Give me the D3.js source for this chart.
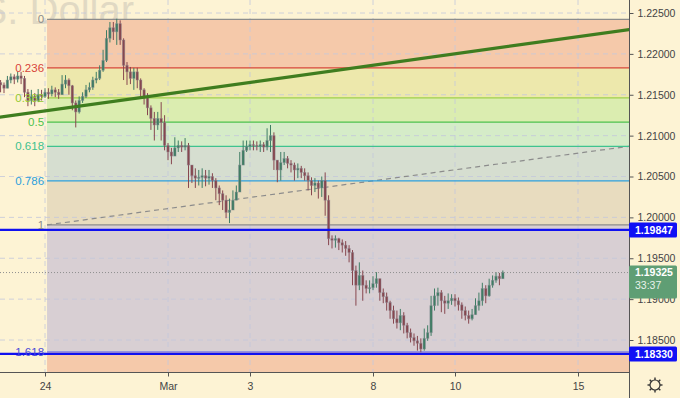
<!DOCTYPE html>
<html>
<head>
<meta charset="utf-8">
<script src="https://cdn.jsdelivr.net/npm/d3@7"></script>
<style>
  html, body { margin: 0; padding: 0; background: #fdf3d4; overflow: hidden; }
  svg { display: block; }
  text { font-family: 'Liberation Sans', Arial, sans-serif; }
</style>
</head>
<body>
<div id="chart"></div>
<script>
const WIDTH = 680;
const HEIGHT = 398;
const PLOT_RIGHT = 629;
const PLOT_BOTTOM = 372;

// 2h bars, open = previous close
const firstOpen = 1.2165;
const firstBarDay = -13 / 12;
const barStep = 1 / 12;

const closes = [
  1.2162, 1.2158, 1.2168, 1.2172, 1.2169, 1.2173, 1.2170, 1.2153, 1.2143, 1.2148,
  1.2143, 1.2150, 1.2148, 1.2153, 1.2151, 1.2156, 1.2153, 1.2150, 1.2163, 1.2168,
  1.2161, 1.2140, 1.2129, 1.2143, 1.2148, 1.2156, 1.2159, 1.2168, 1.2170, 1.2180,
  1.2192, 1.2219, 1.2232, 1.2227, 1.2237, 1.2217, 1.2186, 1.2178, 1.2170, 1.2178,
  1.2168, 1.2156, 1.2148, 1.2134, 1.2121, 1.2113, 1.2121, 1.2116, 1.2088, 1.2080,
  1.2075, 1.2085, 1.2088, 1.2086, 1.2088, 1.2064, 1.2051, 1.2048, 1.2049, 1.2051,
  1.2048, 1.2050, 1.2045, 1.2036, 1.2029, 1.2021, 1.2006, 1.2009, 1.2021, 1.2031,
  1.2064, 1.2082, 1.2087, 1.2089, 1.2088, 1.2087, 1.2089, 1.2086, 1.2094, 1.2100,
  1.2070, 1.2058, 1.2067, 1.2072, 1.2066, 1.2064, 1.2058, 1.2060, 1.2055, 1.2051,
  1.2045, 1.2039, 1.2042, 1.2036, 1.2045, 1.2021, 1.1974, 1.1972, 1.1974, 1.1969,
  1.1966, 1.1962, 1.1957, 1.1935, 1.1917, 1.1929, 1.1917, 1.1913, 1.1914, 1.1919,
  1.1925, 1.1908, 1.1903, 1.1896, 1.1886, 1.1876, 1.1871, 1.1880, 1.1868, 1.1859,
  1.1853, 1.1849, 1.1846, 1.1839, 1.1852, 1.1859, 1.1892, 1.1904, 1.1908, 1.1898,
  1.1895, 1.1898, 1.1901, 1.1898, 1.1893, 1.1886, 1.1880, 1.1876, 1.1881, 1.1892,
  1.1898, 1.1913, 1.1904, 1.1917, 1.1923, 1.1928, 1.1925, 1.19325
];
const highs = [
  1.2168, 1.2165, 1.2173, 1.2176, 1.2175, 1.2178, 1.2178, 1.2173, 1.2157, 1.2156,
  1.2152, 1.2157, 1.2156, 1.2158, 1.2158, 1.2161, 1.2159, 1.2157, 1.2174, 1.2174,
  1.2170, 1.2162, 1.2143, 1.2148, 1.2153, 1.2162, 1.2165, 1.2172, 1.2178, 1.2186,
  1.2205, 1.2229, 1.2239, 1.2239, 1.2243, 1.2241, 1.2219, 1.2190, 1.2184, 1.2183,
  1.2183, 1.2170, 1.2158, 1.2152, 1.2137, 1.2129, 1.2129, 1.2141, 1.2125, 1.2091,
  1.2085, 1.2098, 1.2094, 1.2093, 1.2097, 1.2091, 1.2064, 1.2060, 1.2058, 1.2060,
  1.2058, 1.2058, 1.2054, 1.2048, 1.2039, 1.2033, 1.2027, 1.2023, 1.2033, 1.2039,
  1.2080, 1.2094, 1.2094, 1.2094, 1.2094, 1.2093, 1.2094, 1.2092, 1.2109, 1.2113,
  1.2104, 1.2070, 1.2080, 1.2080, 1.2075, 1.2070, 1.2067, 1.2066, 1.2063, 1.2060,
  1.2055, 1.2049, 1.2048, 1.2045, 1.2050, 1.2055, 1.2027, 1.1978, 1.1978, 1.1975,
  1.1973, 1.1971, 1.1966, 1.1960, 1.1941, 1.1945, 1.1935, 1.1923, 1.1923, 1.1928,
  1.1933, 1.1925, 1.1913, 1.1908, 1.1898, 1.1892, 1.1886, 1.1888, 1.1884, 1.1871,
  1.1864, 1.1858, 1.1855, 1.1852, 1.1864, 1.1868, 1.1904, 1.1913, 1.1914, 1.1911,
  1.1904, 1.1907, 1.1906, 1.1906, 1.1902, 1.1896, 1.1891, 1.1886, 1.1888, 1.1901,
  1.1908, 1.1920, 1.1917, 1.1925, 1.1929, 1.1933, 1.1932, 1.1935
];
const lows = [
  1.2153, 1.2152, 1.2158, 1.2164, 1.2163, 1.2165, 1.2163, 1.2147, 1.2136, 1.2138,
  1.2136, 1.2141, 1.2143, 1.2146, 1.2145, 1.2148, 1.2147, 1.2145, 1.2150, 1.2158,
  1.2150, 1.2131, 1.2110, 1.2127, 1.2140, 1.2146, 1.2153, 1.2156, 1.2164, 1.2168,
  1.2178, 1.2190, 1.2214, 1.2217, 1.2211, 1.2211, 1.2168, 1.2162, 1.2163, 1.2156,
  1.2158, 1.2148, 1.2138, 1.2125, 1.2107, 1.2094, 1.2107, 1.2094, 1.2082, 1.2070,
  1.2065, 1.2075, 1.2080, 1.2080, 1.2082, 1.2036, 1.2042, 1.2036, 1.2039, 1.2036,
  1.2038, 1.2040, 1.2036, 1.2021, 1.2015, 1.2009, 1.1999, 1.1993, 1.2009, 1.2021,
  1.2031, 1.2064, 1.2080, 1.2082, 1.2082, 1.2082, 1.2080, 1.2080, 1.2082, 1.2080,
  1.2058, 1.2043, 1.2045, 1.2064, 1.2060, 1.2055, 1.2045, 1.2048, 1.2048, 1.2045,
  1.2033, 1.2027, 1.2031, 1.2023, 1.2025, 1.2002, 1.1966, 1.1962, 1.1963, 1.1960,
  1.1957, 1.1953, 1.1945, 1.1917, 1.1892, 1.1911, 1.1898, 1.1907, 1.1907, 1.1911,
  1.1914, 1.1898, 1.1895, 1.1886, 1.1876, 1.1870, 1.1864, 1.1862, 1.1858, 1.1852,
  1.1847, 1.1843, 1.1837, 1.1835, 1.1837, 1.1849, 1.1855, 1.1886, 1.1892, 1.1884,
  1.1882, 1.1888, 1.1893, 1.1891, 1.1886, 1.1876, 1.1874, 1.1870, 1.1874, 1.1884,
  1.1886, 1.1892, 1.1895, 1.1903, 1.1914, 1.1920, 1.1917, 1.1925
];

// trading-day index: Feb 24 = 0
const dayTicks = [0, 3, 5, 8, 10, 13];
const dayLabels = ['24', 'Mar', '3', '8', '10', '15'];
const priceTicks = [1.185, 1.19, 1.195, 1.2, 1.205, 1.21, 1.215, 1.22, 1.225];

const fibLevels = [0, 0.236, 0.382, 0.5, 0.618, 0.786, 1, 1.618];
const fibLabels = ['0', '0.236', '0.382', '0.5', '0.618', '0.786', '1', '1.618'];
const fibHigh = 1.22423;
const fibLow = 1.19908;
const fibStartDay = 0.05;

const trendDays = [-1.1, 14.25];
const trendPrices = [1.21225, 1.22298];
const fibTrendDays = [0.05, 14.25];
const fibTrendPrices = [1.19908, 1.2087];

const levelPrices = [1.19847, 1.1833];
const lastPrice = 1.19325;
const countdown = '33:37';
const watermark = 'U.S. Dollar';

const fibLineColors = ['#8c8c8c', '#d8443a', '#9fd04a', '#4cc24c', '#3fc38f', '#2c9fdc', '#8c8c8c', '#7f7fe6'];
const fibTextColors = ['#8c8c8c', '#d8443a', '#95c92f', '#4cc24c', '#3ec18e', '#2c9fdc', '#8c8c8c', '#4b4bd8'];
const fibFillColors = ['#f5c9aa', '#ede8ac', '#dbedb0', '#d5ecc8', '#d6ded0', '#e8dcbf', '#d8cfd3', '#f5c9aa'];

const x = d3.scaleLinear().domain([0, 13]).range([45, 578]);
const y = d3.scaleLinear().domain([1.185, 1.225]).range([340, 13]);

const svg = d3.select('#chart')
  .append('svg')
  .attr('width', WIDTH)
  .attr('height', HEIGHT);

svg.append('rect')
  .attr('width', WIDTH)
  .attr('height', HEIGHT)
  .attr('fill', '#fdf3d4');

svg.append('defs').append('clipPath')
  .attr('id', 'plot-clip')
  .append('rect')
  .attr('width', PLOT_RIGHT)
  .attr('height', PLOT_BOTTOM);

svg.append('text')
  .attr('x', 134)
  .attr('y', 24)
  .attr('text-anchor', 'end')
  .attr('font-size', 40)
  .attr('fill', '#9a9a9a')
  .attr('opacity', 0.28)
  .text(watermark);

const plot = svg.append('g').attr('clip-path', 'url(#plot-clip)');

// fib bands
const fibPrice = l => fibHigh - l * (fibHigh - fibLow);
const fibX = x(fibStartDay);
const bandEdges = fibLevels.map(fibPrice).concat([y.invert(PLOT_BOTTOM)]);

plot.selectAll('.band')
  .data(fibFillColors)
  .enter().append('rect')
  .attr('class', 'band')
  .attr('x', fibX)
  .attr('width', PLOT_RIGHT - fibX)
  .attr('y', (d, i) => y(bandEdges[i]))
  .attr('height', (d, i) => y(bandEdges[i + 1]) - y(bandEdges[i]))
  .attr('fill', d => d);

// grid
plot.selectAll('.hgrid')
  .data(priceTicks)
  .enter().append('line')
  .attr('x1', 0).attr('x2', PLOT_RIGHT)
  .attr('y1', d => y(d)).attr('y2', d => y(d))
  .attr('stroke', '#c4c8dc')
  .attr('stroke-dasharray', '5,4')
  .attr('opacity', 0.8);

plot.selectAll('.vgrid')
  .data(dayTicks)
  .enter().append('line')
  .attr('x1', d => x(d)).attr('x2', d => x(d))
  .attr('y1', 0).attr('y2', PLOT_BOTTOM)
  .attr('stroke', '#c4c8dc')
  .attr('stroke-dasharray', '5,4')
  .attr('opacity', 0.8);

// fib diagonal
plot.append('line')
  .attr('x1', x(fibTrendDays[0])).attr('y1', y(fibTrendPrices[0]))
  .attr('x2', x(fibTrendDays[1])).attr('y2', y(fibTrendPrices[1]))
  .attr('stroke', '#8c8c8c')
  .attr('stroke-width', 1.2)
  .attr('stroke-dasharray', '5,4');

plot.selectAll('.fib-line')
  .data(fibLevels)
  .enter().append('line')
  .attr('x1', fibX).attr('x2', PLOT_RIGHT)
  .attr('y1', d => y(fibPrice(d))).attr('y2', d => y(fibPrice(d)))
  .attr('stroke', (d, i) => fibLineColors[i])
  .attr('stroke-width', 1.2);

svg.selectAll('.fib-label')
  .data(fibLevels)
  .enter().append('text')
  .attr('x', fibX - 3)
  .attr('y', d => y(fibPrice(d)))
  .attr('dy', '0.36em')
  .attr('text-anchor', 'end')
  .attr('font-size', 11.5)
  .attr('fill', (d, i) => fibTextColors[i])
  .text((d, i) => fibLabels[i]);

// candles
const bars = closes.map((c, i) => ({
  day: firstBarDay + i * barStep,
  open: i === 0 ? firstOpen : closes[i - 1],
  high: highs[i],
  low: lows[i],
  close: c
}));

const candle = plot.selectAll('.candle')
  .data(bars)
  .enter().append('g')
  .attr('class', 'candle');

const candleColor = d => d.close >= d.open ? '#3f7d64' : '#87474f';

candle.append('line')
  .attr('x1', d => x(d.day)).attr('x2', d => x(d.day))
  .attr('y1', d => y(Math.max(d.high, d.open, d.close)))
  .attr('y2', d => y(Math.min(d.low, d.open, d.close)))
  .attr('stroke', candleColor)
  .attr('stroke-width', 1);

candle.append('rect')
  .attr('x', d => x(d.day) - 1.2)
  .attr('width', 2.4)
  .attr('y', d => y(Math.max(d.open, d.close)))
  .attr('height', d => Math.max(1, Math.abs(y(d.open) - y(d.close))))
  .attr('fill', candleColor)
  .attr('stroke', 'rgba(140,140,150,0.5)')
  .attr('stroke-width', 0.8);

// trend line
plot.append('line')
  .attr('x1', x(trendDays[0])).attr('y1', y(trendPrices[0]))
  .attr('x2', x(trendDays[1])).attr('y2', y(trendPrices[1]))
  .attr('stroke', '#3f7d1f')
  .attr('stroke-width', 3.2)
  .attr('stroke-linecap', 'round');

// horizontal levels
plot.selectAll('.level')
  .data(levelPrices)
  .enter().append('line')
  .attr('x1', 0).attr('x2', PLOT_RIGHT)
  .attr('y1', d => y(d)).attr('y2', d => y(d))
  .attr('stroke', '#1010f0')
  .attr('stroke-width', 2.4);

plot.append('line')
  .attr('x1', 0).attr('x2', PLOT_RIGHT)
  .attr('y1', y(lastPrice)).attr('y2', y(lastPrice))
  .attr('stroke', '#8f8f8f')
  .attr('stroke-dasharray', '1,2');

// axes
svg.append('line')
  .attr('x1', PLOT_RIGHT + 0.5).attr('x2', PLOT_RIGHT + 0.5)
  .attr('y1', 0).attr('y2', HEIGHT)
  .attr('stroke', '#555');

svg.append('line')
  .attr('x1', 0).attr('x2', PLOT_RIGHT)
  .attr('y1', PLOT_BOTTOM + 0.5).attr('y2', PLOT_BOTTOM + 0.5)
  .attr('stroke', '#555');

const yAxis = d3.axisRight(y)
  .tickValues(priceTicks)
  .tickFormat(d3.format('.5f'))
  .tickSize(4)
  .tickPadding(4);

svg.append('g')
  .attr('class', 'y-axis')
  .attr('transform', 'translate(' + (PLOT_RIGHT + 0.5) + ',0)')
  .call(yAxis)
  .call(g => g.select('.domain').remove())
  .call(g => g.selectAll('line').attr('stroke', '#555'))
  .call(g => g.selectAll('text')
    .attr('fill', '#444')
    .attr('font-size', 10.5)
    .attr('font-family', 'Liberation Sans, Arial, sans-serif'));

const xAxis = d3.axisBottom(x)
  .tickValues(dayTicks)
  .tickFormat((d, i) => dayLabels[i])
  .tickSize(4)
  .tickPadding(6);

svg.append('g')
  .attr('class', 'x-axis')
  .attr('transform', 'translate(0,' + (PLOT_BOTTOM + 0.5) + ')')
  .call(xAxis)
  .call(g => g.select('.domain').remove())
  .call(g => g.selectAll('line').attr('stroke', '#555'))
  .call(g => g.selectAll('text')
    .attr('fill', '#444')
    .attr('font-size', 10.5)
    .attr('font-family', 'Liberation Sans, Arial, sans-serif'));

// price labels
const tag = svg.selectAll('.level-tag')
  .data(levelPrices)
  .enter().append('g')
  .attr('transform', d => 'translate(' + PLOT_RIGHT + ',' + y(d) + ')');

tag.append('rect')
  .attr('x', 0).attr('y', -7.5)
  .attr('width', 48).attr('height', 15)
  .attr('rx', 1.5)
  .attr('fill', '#1010f5');

tag.append('text')
  .attr('x', 6).attr('dy', '0.36em')
  .attr('fill', '#fff')
  .attr('font-size', 10.5)
  .attr('font-weight', 'bold')
  .text(d => d3.format('.5f')(d));

const last = svg.append('g')
  .attr('transform', 'translate(' + PLOT_RIGHT + ',' + y(lastPrice) + ')');

last.append('rect')
  .attr('x', 0).attr('y', -7)
  .attr('width', 48).attr('height', 33)
  .attr('rx', 1.5)
  .attr('fill', '#5f9e74');

last.append('text')
  .attr('x', 6).attr('dy', '0.36em')
  .attr('fill', '#fff')
  .attr('font-size', 10.5)
  .attr('font-weight', 'bold')
  .text(d3.format('.5f')(lastPrice));

last.append('text')
  .attr('x', 6).attr('y', 13).attr('dy', '0.36em')
  .attr('fill', '#e8f2ea')
  .attr('font-size', 10.5)
  .text(countdown);

// settings gear
const gear = svg.append('g')
  .attr('transform', 'translate(655,385)')
  .attr('stroke', '#333')
  .attr('fill', 'none');

gear.append('circle').attr('r', 5).attr('stroke-width', 1.2);
gear.selectAll('.spoke')
  .data(d3.range(8))
  .enter().append('line')
  .attr('x1', d => Math.cos(d * Math.PI / 4) * 5)
  .attr('y1', d => Math.sin(d * Math.PI / 4) * 5)
  .attr('x2', d => Math.cos(d * Math.PI / 4) * 7.5)
  .attr('y2', d => Math.sin(d * Math.PI / 4) * 7.5)
  .attr('stroke-width', 1.4);
</script>
</body>
</html>
